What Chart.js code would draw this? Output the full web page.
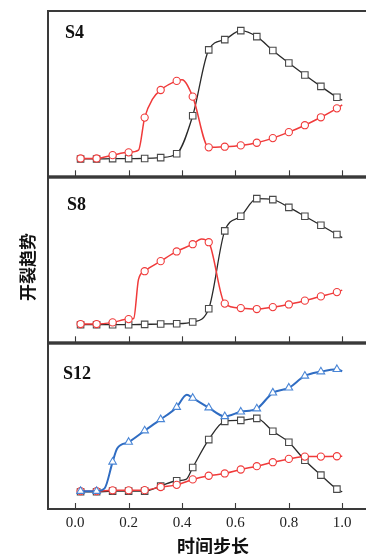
<!DOCTYPE html>
<html>
<head>
<meta charset="utf-8">
<script src="https://cdn.jsdelivr.net/npm/chart.js@4"></script>
<style>
html,body{margin:0;padding:0;background:#fff;width:366px;height:554px;overflow:hidden;}
canvas{position:absolute;left:0;}
#c1{top:0px;} #c2{top:172px;} #c3{top:338px;}
</style>
</head>
<body>
<canvas id="c1" width="400" height="182"></canvas>
<canvas id="c2" width="400" height="176"></canvas>
<canvas id="c3" width="400" height="216"></canvas>
<script>
// ---- data ----
const X_TICKS = [0.0, 0.2, 0.4, 0.6, 0.8, 1.0];
const PANEL_NAMES = ['S4', 'S8', 'S12'];
const X_TITLE = '时间步长';
const Y_TITLE = '开裂趋势';

const X_STD = [0.02,0.08,0.14,0.20,0.26,0.32,0.38,0.44,0.50,0.56,0.62,0.68,0.74,0.80,0.86,0.92,0.98,1.00];

// S4
const S4_RED_X = [0.02,0.08,0.14,0.20,0.237,0.26,0.29,0.32,0.38,0.40,0.44,0.50,0.56,0.62,0.68,0.74,0.80,0.86,0.92,0.98,1.00];
const S4_RED_Y = [0.108,0.108,0.128,0.145,0.158,0.355,0.468,0.522,0.577,0.584,0.482,0.175,0.179,0.187,0.203,0.231,0.267,0.309,0.357,0.411,0.432];
const S4_BLK_Y = [0.105,0.105,0.107,0.107,0.108,0.113,0.136,0.366,0.765,0.827,0.881,0.845,0.761,0.685,0.613,0.544,0.478,0.460];

// S8
const S8_RED_X = [0.02,0.08,0.14,0.20,0.219,0.237,0.26,0.32,0.38,0.44,0.473,0.50,0.56,0.62,0.68,0.74,0.80,0.86,0.92,0.98,1.00];
const S8_RED_Y = [0.111,0.111,0.121,0.141,0.145,0.382,0.432,0.493,0.552,0.596,0.628,0.608,0.235,0.208,0.202,0.214,0.230,0.253,0.279,0.305,0.317];
const S8_BLK_Y = [0.107,0.107,0.107,0.107,0.109,0.111,0.113,0.123,0.204,0.677,0.766,0.873,0.867,0.820,0.766,0.711,0.655,0.636];

// S12
const S12_BLUE_X = [0.02,0.08,0.11,0.14,0.157,0.20,0.26,0.32,0.38,0.418,0.44,0.50,0.56,0.62,0.68,0.74,0.80,0.86,0.92,0.98,1.00];
const S12_BLUE_Y = [0.108,0.108,0.125,0.285,0.366,0.405,0.474,0.542,0.616,0.691,0.671,0.613,0.560,0.588,0.607,0.703,0.733,0.805,0.831,0.845,0.833];
const S12_BLK_X = [0.02,0.08,0.14,0.20,0.26,0.32,0.38,0.415,0.44,0.50,0.56,0.62,0.68,0.74,0.80,0.86,0.92,0.98,1.00];
const S12_BLK_Y = [0.104,0.104,0.108,0.108,0.108,0.139,0.171,0.179,0.251,0.420,0.530,0.536,0.548,0.470,0.404,0.295,0.205,0.120,0.104];
const S12_RED_Y = [0.108,0.108,0.113,0.113,0.114,0.133,0.146,0.179,0.201,0.215,0.239,0.259,0.283,0.303,0.317,0.317,0.319,0.319];

// ---- helpers ----
function pts(xs, ys){ return xs.map((x,i)=>({x:x, y:ys[i]})); }
function isMarker(x){ const k=(x-0.02)/0.06; return Math.abs(k-Math.round(k))<1e-6 && x<0.99; }

const STYLES = {
  red:  {border:'#f03a3a', point:'#f03a3a', style:'circle', r:3.6, lw:1.5},
  black:{border:'#2a2a2a', point:'#4a4a4a', style:'rect', r:4.6, lw:1.3},
  blue: {border:'#2f6cc2', point:'#4a86d6', style:'triangle', r:4.4, lw:2}
};

function ds(data, kind){
  const s = STYLES[kind];
  return {
    data: data,
    borderColor: s.border,
    borderWidth: s.lw,
    cubicInterpolationMode: 'monotone',
    pointStyle: s.style,
    pointRadius: c => (c.raw && isMarker(c.raw.x)) ? s.r : 0,
    pointHoverRadius: c => (c.raw && isMarker(c.raw.x)) ? s.r : 0,
    pointBorderColor: s.point,
    pointBackgroundColor: '#ffffff',
    pointBorderWidth: 1.1,
    fill: false
  };
}

const framePlugin = {
  id: 'frame',
  afterDraw(chart){
    const {ctx, chartArea:a} = chart;
    const xs = chart.scales.x;
    ctx.save();
    ctx.strokeStyle = '#3a3a3a';
    ctx.lineWidth = 1.1;
    X_TICKS.forEach(v=>{
      const px = Math.round(xs.getPixelForValue(v)) + 0.5;
      ctx.beginPath(); ctx.moveTo(px, a.bottom); ctx.lineTo(px, a.bottom-6); ctx.stroke();
    });
    ctx.lineWidth = 2;
    ctx.strokeRect(a.left, a.top, a.right - a.left + 20, a.bottom - a.top);
    const o = chart.options.plugins.frame || {};
    if (o.label){
      ctx.fillStyle = '#111';
      ctx.font = 'bold 18px "Liberation Serif", serif';
      ctx.textAlign = 'left'; ctx.textBaseline = 'alphabetic';
      ctx.fillText(o.label, a.left + o.dx, a.top + o.dy);
    }
    if (o.ytitle){
      ctx.save();
      ctx.translate(o.ty[0], o.ty[1]);
      ctx.rotate(-Math.PI/2);
      ctx.fillStyle = '#111';
      ctx.font = 'bold 17px "Noto Sans CJK SC", sans-serif';
      ctx.textAlign = 'center'; ctx.textBaseline = 'middle';
      ctx.fillText(o.ytitle, 0, 0);
      ctx.restore();
    }
    if (o.xtitle){
      ctx.fillStyle = '#111';
      ctx.font = 'bold 18px "Noto Sans CJK SC", sans-serif';
      ctx.textAlign = 'center'; ctx.textBaseline = 'middle';
      ctx.fillText(o.xtitle, o.tx[0], o.tx[1]);
    }
    ctx.restore();
  }
};

function makeChart(id, datasets, pad, frameOpts, showX){
  return new Chart(document.getElementById(id), {
    type: 'line',
    data: { datasets: datasets },
    plugins: [framePlugin],
    options: {
      responsive: false,
      animation: false,
      devicePixelRatio: 1,
      layout: { padding: pad },
      plugins: { legend:{display:false}, tooltip:{enabled:false}, frame: frameOpts },
      scales: {
        x: {
          type: 'linear', min: -0.102, max: 1.195, offset: false,
          display: showX,
          grid: { display:false, drawTicks:false },
          border: { display:false },
          afterBuildTicks: s => { s.ticks = X_TICKS.map(v=>({value:v})); },
          afterFit: s => { if (showX) s.height = 45; },
          ticks: {
            padding: 5,
            color: '#222',
            font: { family: '"Liberation Serif", serif', size: 15 },
            callback: v => v.toFixed(1),
            maxRotation: 0, autoSkip: false
          }
        },
        y: {
          min: 0, max: 1,
          display: true,
          grid: { display:false },
          border: { display:false },
          ticks: { display:false },
          afterFit: s => { s.width = 48; }
        }
      }
    }
  });
}

makeChart('c1', [
  ds(pts(S4_RED_X, S4_RED_Y), 'red'),
  ds(pts(X_STD, S4_BLK_Y), 'black')
], {top:11, bottom:5, left:0, right:0}, {label: PANEL_NAMES[0], dx:17, dy:27}, false);

makeChart('c2', [
  ds(pts(S8_RED_X, S8_RED_Y), 'red'),
  ds(pts(X_STD, S8_BLK_Y), 'black')
], {top:5, bottom:5, left:0, right:0}, {label: PANEL_NAMES[1], dx:19, dy:32, ytitle: Y_TITLE, ty:[28, 95]}, false);

makeChart('c3', [
  ds(pts(S12_BLUE_X, S12_BLUE_Y), 'blue'),
  ds(pts(X_STD, S12_RED_Y), 'red'),
  ds(pts(S12_BLK_X, S12_BLK_Y), 'black')
], {top:5, bottom:0, left:0, right:0}, {label: PANEL_NAMES[2], dx:15, dy:35, xtitle: X_TITLE, tx:[213, 208]}, true);
</script>
</body>
</html>
